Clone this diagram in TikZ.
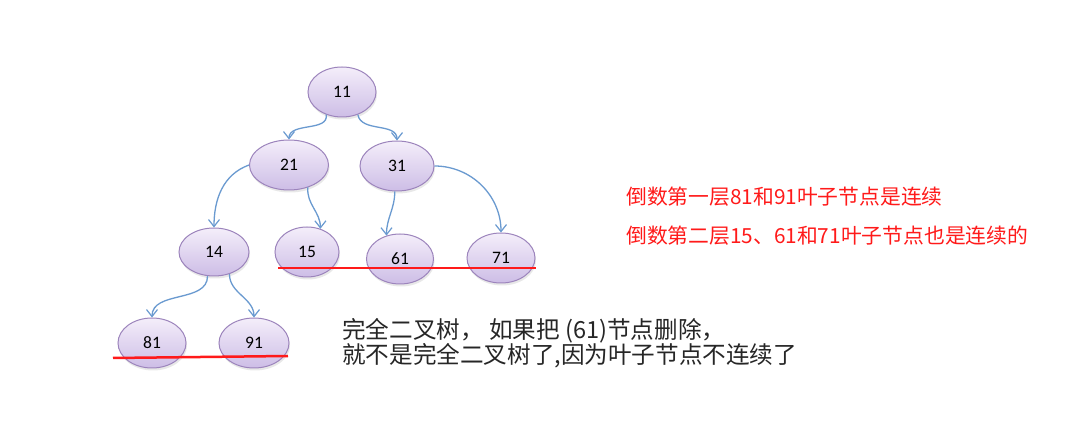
\documentclass[tikz,border=0pt]{standalone}
\usepackage{fontspec}
\setmainfont{Carlito}
\newfontfamily\cjk{Noto Sans CJK SC}
\usetikzlibrary{shapes.geometric,arrows.meta,shadows}
\definecolor{edgeblue}{HTML}{6A9AD0}
\definecolor{nodeborder}{HTML}{9C84BC}
\definecolor{nodetop}{HTML}{F4EEFA}
\definecolor{nodebot}{HTML}{CDBDE6}
\definecolor{redline}{HTML}{FF1A1A}
\tikzset{
  x=1pt,y=-1pt,
  treenode/.style={ellipse, draw=nodeborder, line width=1pt, top color=nodetop, bottom color=nodebot,
    minimum width=68pt, minimum height=50pt, inner sep=0pt, font=\fontsize{17.5}{17.5}\selectfont,
    drop shadow={opacity=0.18, shadow xshift=1pt, shadow yshift=-2.5pt}},
  conn/.style={draw=edgeblue, line width=1.3pt, -{Straight Barb[length=7pt,width=11pt,line width=1.2pt]}},
  redmark/.style={draw=redline, line width=2.5pt},
  redtext/.style={anchor=west, text=redline, font=\cjk\fontsize{20.8}{24}\selectfont, inner sep=0pt},
  blacktext/.style={anchor=west, text=black!85, font=\cjk\fontsize{23.6}{25}\selectfont, inner sep=0pt}
}
\begin{document}
\begin{tikzpicture}
\useasboundingbox (0,0) rectangle (1085,443);
\fill[white] (0,0) rectangle (1085,443);
\node[treenode] (n11) at (342,92) {11};
\node[treenode, minimum width=79pt] (n21) at (289,165) {21};
\node[treenode, minimum width=74pt] (n31) at (397,166) {31};
\node[treenode, minimum width=70pt, minimum height=48pt] (n14) at (214,252) {14};
\node[treenode, minimum width=64pt] (n15) at (307,252) {15};
\node[treenode, minimum width=67pt] (n61) at (400,259) {61};
\node[treenode] (n71) at (501,258) {71};
\node[treenode] (n81) at (152,343) {81};
\node[treenode, minimum width=70pt] (n91) at (254,343) {91};

\draw[conn] (n11.-125) to[out=-80,in=90] (n21.north);
\draw[conn] (n11.-55) to[out=-80,in=90] (n31.north);
\draw[conn] (n21.west) to[out=200,in=90] (n14.north);
\draw[conn] (n21.-50) to[out=-95,in=90] (n15.60);
\draw[conn] (n31.-95) to[out=-90,in=90] (n61.120);
\draw[conn] (n31.east) to[out=0,in=90] (n71.north);
\draw[conn] (n14.-105) to[out=-90,in=90] (n81.north);
\draw[conn] (n14.-55) to[out=-90,in=90] (n91.north);

\coordinate (r1a) at (278,268);
\coordinate (r1b) at (536,268);
\coordinate (r2a) at (113,358);
\coordinate (r2b) at (288,356);
\draw[redmark] (r1a) -- (r1b);
\draw[redmark] (r2a) -- (r2b);

\node[redtext] (t1) at (626,197) {倒数第一层81和91叶子节点是连续};
\node[redtext] (t2) at (626,236) {倒数第二层15、61和71叶子节点也是连续的};
\node[blacktext] (t3) at (342,331) {完全二叉树， 如果把 (61)节点删除，};
\node[blacktext] (t4) at (342,356) {就不是完全二叉树了,因为叶子节点不连续了};
\end{tikzpicture}
\end{document}
